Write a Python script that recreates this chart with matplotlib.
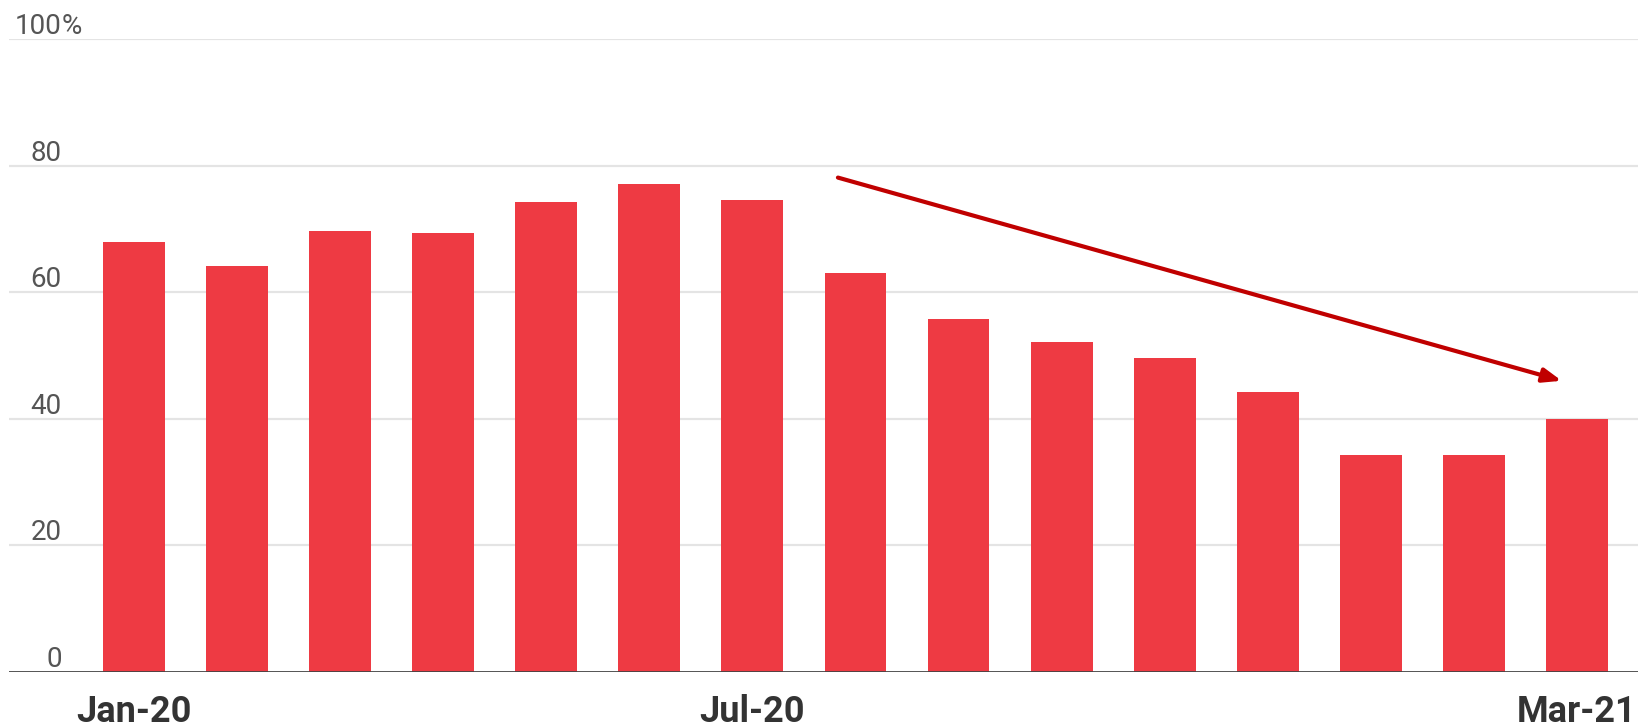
import matplotlib.pyplot as plt
from matplotlib.transforms import blended_transform_factory, offset_copy

months = ['Jan-20', 'Feb-20', 'Mar-20', 'Apr-20', 'May-20', 'Jun-20', 'Jul-20',
          'Aug-20', 'Sep-20', 'Oct-20', 'Nov-20', 'Dec-20', 'Jan-21', 'Feb-21',
          'Mar-21']
share = [68.0, 64.2, 69.7, 69.4, 74.3, 77.1, 74.6, 63.1, 55.7, 52.1, 49.6,
         44.2, 34.3, 34.3, 40.0]
shown_months = ['Jan-20', 'Jul-20', 'Mar-21']
y_ticks = [0, 20, 40, 60, 80, 100]

# trend arrow, from mid-2020 down to the latest month
arrow_start = (6.83, 78.1)
arrow_end = (13.85, 46.0)

bar_color = '#ee3a43'
arrow_color = '#c00000'

fig = plt.figure(figsize=(16.38, 7.27), dpi=100)
ax = fig.add_axes([0.0055, 0.0757, 0.9945, 0.8707])

x = list(range(len(months)))
ax.bar(x, share, width=0.6, color=bar_color, zorder=2)

ax.set_xlim(-1.21, 14.59)
ax.set_ylim(0, 100)

for t in y_ticks[1:]:
    ax.axhline(t, color='#e4e4e4', lw=1.6, zorder=1)
ax.axhline(0, color='#444444', lw=2.0, zorder=3)

for s in ax.spines.values():
    s.set_visible(False)
ax.set_xticks([])
ax.set_yticks([])

# y labels sit above the gridlines, inside the plot
trans = offset_copy(blended_transform_factory(ax.transAxes, ax.transData),
                    fig=fig, x=0, y=5, units='dots')
for t in y_ticks:
    ax.text(0.0325, t, str(t), transform=trans, ha='right', va='baseline',
            fontsize=20, color='#555555', family='Roboto', zorder=4)
ax.text(0.0325, 100, '%', transform=trans, ha='left', va='baseline',
        fontsize=20, color='#555555', family='Roboto', zorder=4)

# month labels below the baseline
below = offset_copy(ax.transData, fig=fig, x=0, y=-50, units='dots')
for m in shown_months:
    i = months.index(m)
    if i == len(months) - 1:
        xpos, ha = 14.57, 'right'
    else:
        xpos, ha = i, 'center'
    ax.text(xpos, 0, m, transform=below, ha=ha, va='baseline', fontsize=26,
            fontweight='bold', color='#333333', family='Roboto', clip_on=False)

ax.annotate('', xy=arrow_end, xytext=arrow_start,
            arrowprops=dict(arrowstyle='-|>,head_length=1.1,head_width=0.42',
                            color=arrow_color, lw=3, shrinkA=0, shrinkB=0),
            zorder=5)

fig.savefig('out.png', dpi=100)
